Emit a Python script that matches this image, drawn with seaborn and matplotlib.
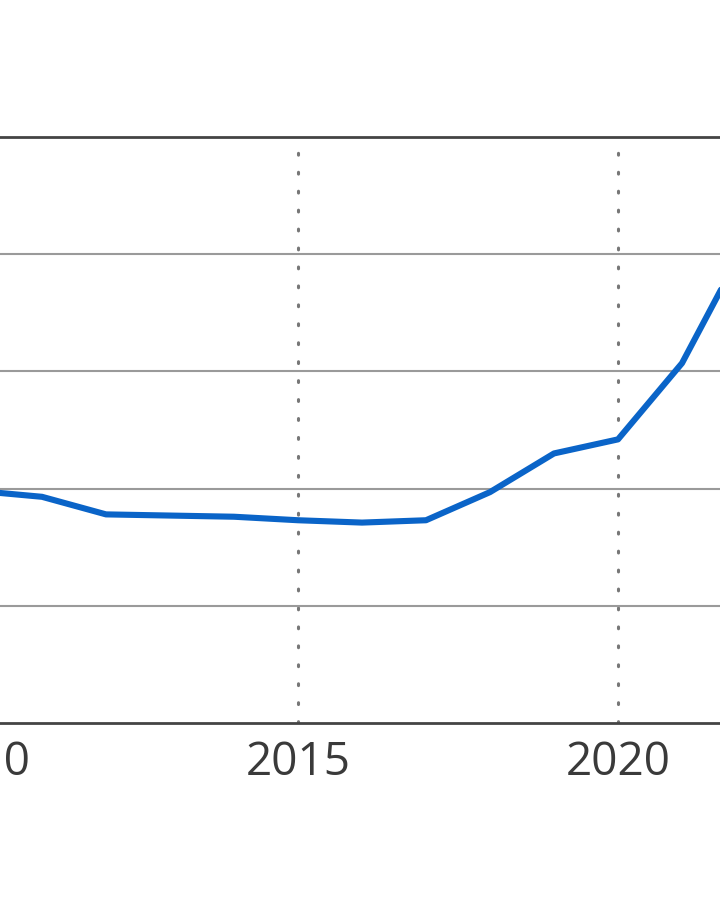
import matplotlib
matplotlib.use("Agg")
import matplotlib.pyplot as plt
import seaborn as sns
import pandas as pd

years = [2010, 2011, 2012, 2013, 2014, 2015, 2016, 2017, 2018, 2019, 2020, 2021, 2022]
values = [1.98, 1.93, 1.78, 1.77, 1.76, 1.73, 1.71, 1.73, 1.97, 2.30, 2.42, 3.07, 4.10]
x_ticks = [2010, 2015, 2020]
x_tick_labels = ["2010", "2015", "2020"]
y_grid = [1, 2, 3, 4]

sns.set_theme(style="white")
plt.rcParams['font.family'] = ['Open Sans', 'DejaVu Sans']

df = pd.DataFrame({"year": years, "value": values})

fig = plt.figure(figsize=(7.2, 9), dpi=100)
ax = fig.add_axes([-54 / 720, 177 / 900, 832 / 720, 586 / 900])

# vertical dotted lines
for xt in x_ticks:
    ax.axvline(xt, color="#777777", lw=2.2, linestyle=(0, (0.6, 5.6)),
               dash_capstyle="round", zorder=1)
# horizontal grid
for yg in y_grid:
    ax.axhline(yg, color="#9a9a9a", lw=1.5, zorder=1)

sns.lineplot(data=df, x="year", y="value", ax=ax, color="#0a64c8", lw=4.4, zorder=3)

ax.set_xlim(2009.5, 2022.5)
ax.set_ylim(0, 5)
ax.set_xticks(x_ticks)
ax.set_xticklabels(x_tick_labels, fontsize=33, color="#3a3a3a")
ax.set_yticks([])
ax.tick_params(axis="x", length=0, pad=12)
ax.set_xlabel("")
ax.set_ylabel("")
for s in ["left", "right"]:
    ax.spines[s].set_visible(False)
for s in ["top", "bottom"]:
    ax.spines[s].set_color("#444444")
    ax.spines[s].set_linewidth(2.0)

fig.savefig("out.png", dpi=100)
